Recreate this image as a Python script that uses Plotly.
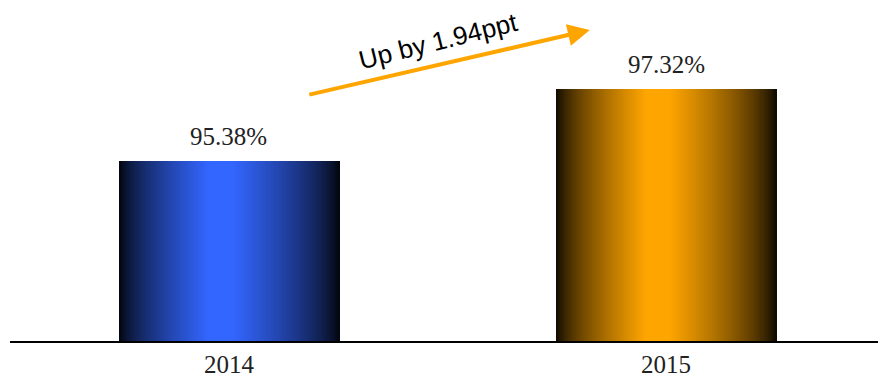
import plotly.graph_objects as go

# Data
years = ["2014", "2015"]
rates = [95.38, 97.32]
bar_colors = [(51, 102, 255), (255, 165, 0)]  # blue, orange
change_label = "Up by 1.94ppt"

# Horizontal "cylinder" shading: each bar is built from thin vertical slices
n_slices = 110
bar_width = 0.503


def shade(rgb, f):
    return "rgb({},{},{})".format(*(int(round(c * f)) for c in rgb))


def brightness(u):
    # u in [0, 1] across the bar; bright plateau slightly left of centre
    lo, hi, edge = 0.41, 0.515, 0.03
    if u < lo:
        s = u / lo
    elif u > hi:
        s = (1 - u) / (1 - hi)
    else:
        s = 1.0
    return edge + (1 - edge) * s ** 0.7


fig = go.Figure()
step = bar_width / n_slices
for i in range(n_slices):
    u = (i + 0.5) / n_slices
    f = brightness(u)
    fig.add_trace(
        go.Bar(
            x=years,
            y=rates,
            width=step * 1.5,
            offset=-bar_width / 2 + i * step,
            marker=dict(color=[shade(c, f) for c in bar_colors], line=dict(width=0)),
            hoverinfo="skip",
            showlegend=False,
        )
    )

# Value labels above the bars (category index used as x position)
for idx, v in enumerate(rates):
    fig.add_annotation(
        x=idx, y=v, text=f"{v:.2f}%", showarrow=False,
        yanchor="bottom", yshift=9,
        font=dict(family="Liberation Serif", size=25, color="#222222"),
    )

# Growth arrow and caption
fig.add_annotation(
    xref="paper", yref="paper", x=0.668, y=0.912,
    ax=-282, ay=65, axref="pixel", ayref="pixel",
    text="", showarrow=True, arrowhead=2, arrowsize=1.1, arrowwidth=4,
    arrowcolor="#FFA500", standoff=0,
)
fig.add_annotation(
    xref="paper", yref="paper", x=0.4935, y=0.88,
    text=change_label, showarrow=False, textangle=-14,
    xanchor="center", yanchor="middle",
    font=dict(family="Liberation Sans", size=26, color="#000000"),
)

fig.update_layout(
    width=878, height=381,
    margin=dict(l=10, r=0, t=0, b=40),
    barmode="overlay",
    bargap=0,
    plot_bgcolor="white",
    paper_bgcolor="white",
)
fig.update_xaxes(
    type="category", range=[-0.501, 1.485],
    showline=True, linecolor="black", linewidth=1.5,
    ticks="", showgrid=False, zeroline=False,
    tickfont=dict(family="Liberation Serif", size=25, color="#222222"),
)
fig.update_yaxes(
    range=[90.53, 99.72], visible=False, showgrid=False, zeroline=False,
)

fig.write_html("out.html")
